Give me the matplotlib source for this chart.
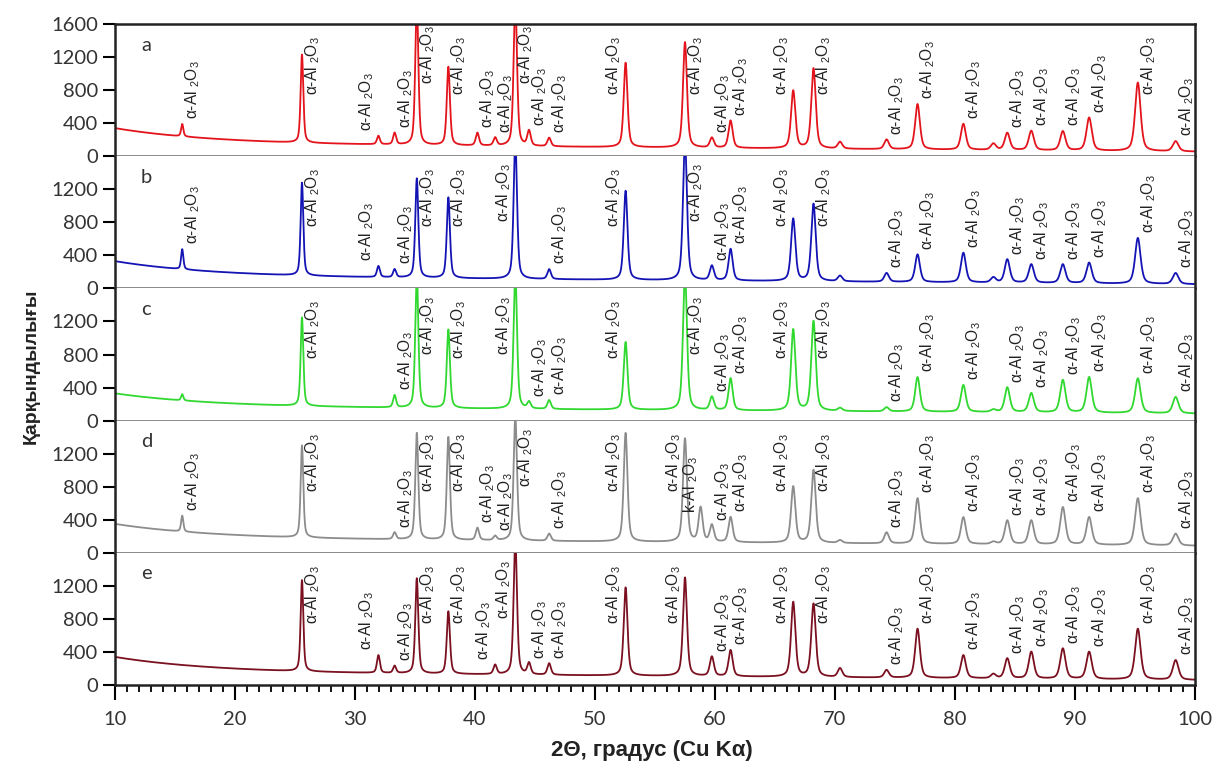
import matplotlib
matplotlib.use('Agg')
import matplotlib.pyplot as plt
import numpy as np
from matplotlib.ticker import MultipleLocator

plt.rcParams['font.family'] = ['Lato', 'DejaVu Sans']
plt.rcParams['mathtext.default'] = 'regular'

# peak positions (2theta, deg) shared by all patterns
peak_pos = [15.6, 25.58, 31.95, 33.3, 35.15, 37.78, 40.2, 41.68, 43.36, 44.5,
            46.18, 52.55, 57.5, 58.8, 59.74, 61.3, 66.52, 68.21, 70.42, 74.3,
            76.88, 80.7, 83.2, 84.36, 86.36, 88.99, 91.18, 95.24, 98.39]

# apex intensity (0 = no peak)
apex_a = [390, 1230, 245, 280, 1900, 1080, 280, 220, 1900, 300,
          220, 1130, 1380, 0, 220, 430, 790, 1060, 170, 200,
          630, 390, 150, 280, 305, 300, 465, 890, 180]
apex_b = [475, 1280, 270, 230, 1330, 1100, 0, 0, 1800, 0,
          230, 1180, 1800, 0, 270, 475, 840, 1020, 150, 185,
          410, 430, 130, 350, 290, 290, 310, 610, 185]
apex_c = [320, 1250, 0, 305, 1800, 1100, 0, 0, 1800, 220,
          245, 950, 1800, 0, 285, 510, 1100, 1200, 150, 160,
          525, 430, 130, 400, 330, 490, 525, 510, 285]
apex_d = [450, 1300, 0, 245, 1450, 1400, 300, 200, 1650, 0,
          230, 1450, 1380, 540, 330, 430, 800, 1000, 150, 245,
          660, 430, 130, 390, 390, 550, 430, 660, 230]
apex_e = [0, 1270, 360, 230, 1290, 890, 0, 240, 1750, 260,
          260, 1180, 1300, 0, 340, 420, 1000, 980, 200, 180,
          680, 360, 130, 320, 400, 440, 400, 680, 300]

# background level at 10 deg and at 100 deg
bg_start = [340, 330, 330, 350, 340]
bg_end = [55, 50, 85, 85, 60]

# labelled peaks in each pattern
lab_a = [15.6, 25.58, 31.95, 33.3, 35.15, 37.78, 40.2, 41.68, 43.36, 44.5, 46.18,
         52.55, 57.5, 59.74, 61.3, 66.52, 68.21, 74.3, 76.88, 80.7, 84.36, 86.36,
         88.99, 91.18, 95.24, 98.39]
lab_b = [15.6, 25.58, 31.95, 33.3, 35.15, 37.78, 43.36, 46.18, 52.55, 57.5, 59.74,
         61.3, 66.52, 68.21, 74.3, 76.88, 80.7, 84.36, 86.36, 88.99, 91.18, 95.24, 98.39]
lab_c = [25.58, 33.3, 35.15, 37.78, 43.36, 44.5, 46.18, 52.55, 57.5, 59.74, 61.3,
         66.52, 68.21, 74.3, 76.88, 80.7, 84.36, 86.36, 88.99, 91.18, 95.24, 98.39]
lab_d = [15.6, 25.58, 33.3, 35.15, 37.78, 40.2, 41.68, 43.36, 46.18, 52.55, 57.5,
         58.8, 59.74, 61.3, 66.52, 68.21, 74.3, 76.88, 80.7, 84.36, 86.36, 88.99,
         91.18, 95.24, 98.39]
lab_e = [25.58, 31.95, 33.3, 35.15, 37.78, 41.68, 43.36, 44.5, 46.18, 52.55, 57.5,
         59.74, 61.3, 66.52, 68.21, 74.3, 76.88, 80.7, 84.36, 86.36, 88.99, 91.18,
         95.24, 98.39]
# labels written on the left-hand side of their peak
left_a = [31.95, 52.55, 66.52]
left_b = [31.95, 43.36, 52.55, 66.52]
left_c = [43.36, 52.55, 66.52]
left_d = [52.55, 57.5, 58.8, 66.52]
left_e = [31.95, 41.68, 43.36, 52.55, 57.5, 66.52]
kappa_peaks = [58.8]

panel_names = ['a', 'b', 'c', 'd', 'e']
colors = ['#e3141c', '#1414b4', '#30d830', '#8c8c8c', '#7a1020']


def background(x, start, end):
    return end + (start - end) * (0.65 * np.exp(-(x - 10) / 8.0) + 0.35 * (100 - x) / 90)


def pattern(x, apex, start, end):
    y = background(x, start, end)
    for p, a in zip(peak_pos, apex):
        if a <= 0:
            continue
        h = a - background(p, start, end)
        hw = 0.1 + 0.002 * (p - 10)
        u = (x - p) / hw
        y = y + h * (0.5 / (1 + u ** 2) + 0.5 * np.exp(-np.log(2) * u ** 2))
    return y


x = np.linspace(10, 100, 9001)
apexes = [apex_a, apex_b, apex_c, apex_d, apex_e]
labels = [lab_a, lab_b, lab_c, lab_d, lab_e]
lefts = [left_a, left_b, left_c, left_d, left_e]

fig = plt.figure(figsize=(12.16, 7.63), dpi=100)
axes = fig.subplots(5, 1, sharex=True)
fig.subplots_adjust(left=0.0946, right=0.9827, top=0.9685, bottom=0.1022, hspace=0)

for i, ax in enumerate(axes):
    y = pattern(x, apexes[i], bg_start[i], bg_end[i])
    ax.plot(x, y, color=colors[i], lw=1.3)
    ax.set_xlim(10, 100)
    ax.set_ylim(0, 1600)
    if i == 0:
        ax.set_yticks([0, 400, 800, 1200, 1600])
    else:
        ax.set_yticks([0, 400, 800, 1200])
    ax.tick_params(axis='y', direction='out', length=9, width=1.5, labelsize=14.5,
                   labelcolor='#333333', pad=3)

    for side in ['left', 'right']:
        ax.spines[side].set_linewidth(1.8)
        ax.spines[side].set_color('#222222')
    ax.spines['top'].set_visible(i == 0)
    ax.spines['top'].set_linewidth(1.8)
    ax.spines['top'].set_color('#222222')
    ax.spines['bottom'].set_linewidth(1.8)
    ax.spines['bottom'].set_color('#222222' if i == 4 else '#666666')

    ax.text(0.024, 0.84, panel_names[i], transform=ax.transAxes, fontsize=14.5,
            color='#333333', va='center', ha='left')

    # labels of off-scale peaks sit a little higher in the top pattern
    cap_high = 880 if i == 0 else 800
    for p in labels[i]:
        a = apexes[i][peak_pos.index(p)]
        yb = cap_high if a > 1600 else min(a + 60, 740)
        txt = 'k-Al $_2$O$_3$' if p in kappa_peaks else 'α-Al $_2$O$_3$'
        if p in kappa_peaks:
            yb = a - 60
        if p in lefts[i]:
            xt, ha = p - (0.05 if p in kappa_peaks else 0.2), 'right'
        else:
            xt, ha = p + 0.1, 'left'
        ax.text(xt, yb, txt, rotation=90, ha=ha, va='bottom', fontsize=11.2,
                family='Liberation Sans', color='#222222')

    if i < 4:
        ax.tick_params(axis='x', bottom=False, labelbottom=False)

axes[4].xaxis.set_major_locator(MultipleLocator(10))
axes[4].xaxis.set_minor_locator(MultipleLocator(1))
axes[4].tick_params(axis='x', which='major', direction='out', length=11, width=1.5,
                    labelsize=14.5, labelcolor='#333333', pad=8)
axes[4].tick_params(axis='x', which='minor', direction='out', length=5, width=1.3)

fig.text(0.026, 0.52, 'Қарқындылығы', rotation=90, ha='center', va='center',
         fontsize=14, fontweight='bold', family='Liberation Sans', color='#222222')
fig.text(0.536, 0.017, '2Θ, градус (Cu Kα)', ha='center', va='center',
         fontsize=16, fontweight='bold', family='Liberation Sans', color='#222222')

fig.savefig('out.png', dpi=100)
